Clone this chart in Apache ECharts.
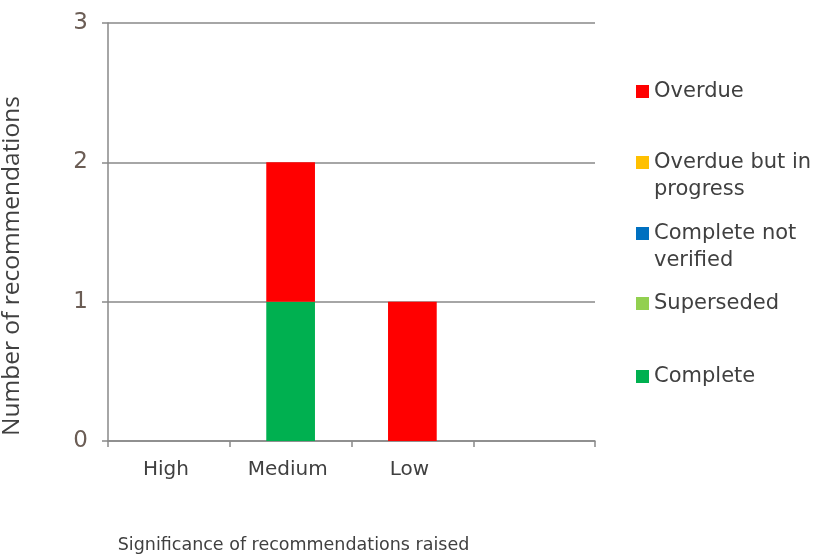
<!DOCTYPE html>
<html>
<head>
<meta charset="utf-8">
<script src="https://cdn.jsdelivr.net/npm/echarts@6/dist/echarts.min.js"></script>
<style>
  html, body { margin: 0; padding: 0; background: #ffffff; }
  #chart { width: 820px; height: 555px; }
</style>
</head>
<body>
<div id="chart"></div>
<script>
// Categories on the x axis (the fourth slot is intentionally blank)
const categories = ['High', 'Medium', 'Low', ''];

// Recommendation counts per status, one value per category
const complete = [0, 1, 0, 0];
const superseded = [0, 0, 0, 0];
const completeNotVerified = [0, 0, 0, 0];
const overdueInProgress = [0, 0, 0, 0];
const overdue = [0, 1, 1, 0];

// Value axis ticks
const yTicks = [0, 1, 2, 3];

const seriesDefs = [
  { name: 'Complete', data: complete, color: '#00B050' },
  { name: 'Superseded', data: superseded, color: '#92D050' },
  { name: 'Complete not verified', data: completeNotVerified, color: '#0070C0' },
  { name: 'Overdue but in progress', data: overdueInProgress, color: '#FFC000' },
  { name: 'Overdue', data: overdue, color: '#FF0000' }
];

// Legend rows, top to bottom, with their wrapped labels
const legendRows = [
  { name: 'Overdue', label: 'Overdue', top: 78 },
  { name: 'Overdue but in progress', label: 'Overdue but in\nprogress', top: 149 },
  { name: 'Complete not verified', label: 'Complete not\nverified', top: 220 },
  { name: 'Superseded', label: 'Superseded', top: 290 },
  { name: 'Complete', label: 'Complete', top: 363 }
];

const FONT = 'DejaVu Sans';
const LINE_H = 27;

const chart = echarts.init(document.getElementById('chart'), null, { renderer: 'canvas' });

// One legend per row so each row sits at its own height; for wrapped labels a
// leading empty line keeps the swatch level with the first line of text.
const legends = legendRows.map(row => {
  const twoLines = row.label.indexOf('\n') >= 0;
  return {
    left: 636,
    top: twoLines ? row.top - LINE_H : row.top,
    padding: 0,
    orient: 'vertical',
    icon: 'rect',
    itemWidth: 13,
    itemHeight: 13,
    itemGap: 0,
    selectedMode: false,
    data: [row.name],
    formatter: () => (twoLines ? '\n' + row.label : row.label),
    textStyle: {
      fontFamily: FONT,
      fontSize: 21,
      color: '#404040',
      lineHeight: LINE_H
    }
  };
});

chart.setOption({
  animation: false,
  backgroundColor: '#ffffff',
  grid: { left: 108, right: 225, top: 23, bottom: 114, containLabel: false, outerBoundsMode: 'none' },
  legend: legends,
  xAxis: {
    type: 'category',
    data: categories,
    boundaryGap: true,
    axisLine: { show: true, lineStyle: { color: '#898989', width: 1.5 } },
    axisTick: { show: true, length: 6, interval: 0, lineStyle: { color: '#898989', width: 1.5 } },
    axisLabel: { interval: 0, margin: 19, fontFamily: FONT, fontSize: 20, color: '#404040', padding: [0, 6, 0, 0] },
    name: 'Significance of recommendations raised',
    nameLocation: 'middle',
    nameGap: 95,
    nameTextStyle: { fontFamily: FONT, fontSize: 17.5, color: '#404040', padding: [0, 116, 0, 0] }
  },
  yAxis: {
    type: 'value',
    min: yTicks[0],
    max: yTicks[yTicks.length - 1],
    interval: 1,
    axisLine: { show: true, lineStyle: { color: '#898989', width: 1.5 } },
    axisTick: { show: true, length: 6, lineStyle: { color: '#898989', width: 1.5 } },
    splitLine: { show: true, lineStyle: { color: '#898989', width: 1.5 } },
    axisLabel: { margin: 20, fontFamily: FONT, fontSize: 23, color: '#6b5d55' },
    name: 'Number of recommendations',
    nameLocation: 'middle',
    nameGap: 83,
    nameTextStyle: { fontFamily: 'Open Sans', fontSize: 24.5, color: '#404040', padding: [0, 68, 0, 0] }
  },
  series: seriesDefs.map(s => ({
    name: s.name,
    type: 'bar',
    stack: 'status',
    barWidth: '40%',
    data: s.data,
    itemStyle: { color: s.color }
  }))
});
</script>
</body>
</html>
